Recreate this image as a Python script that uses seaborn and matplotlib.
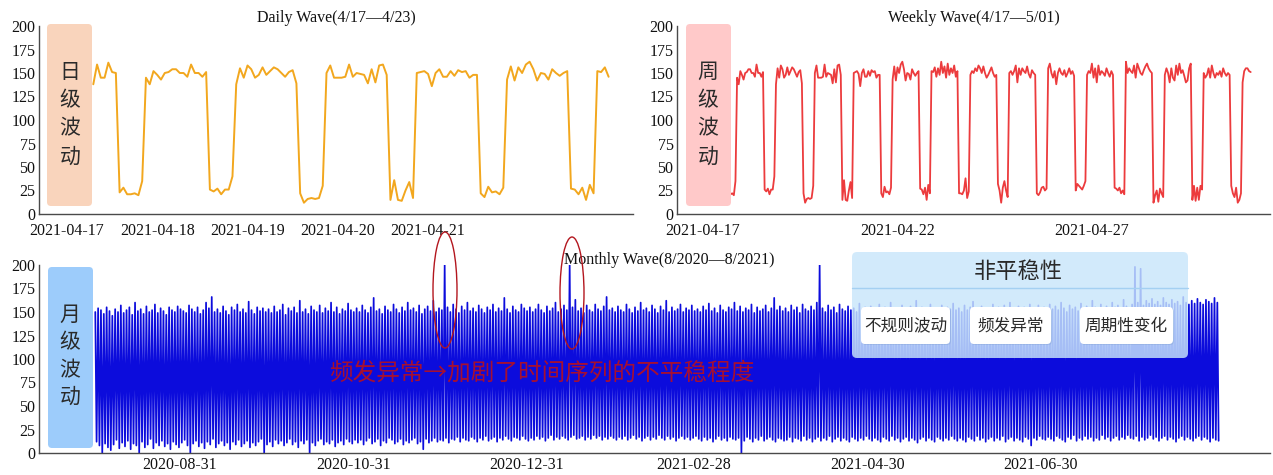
import matplotlib
matplotlib.use("Agg")
import matplotlib.pyplot as plt
import matplotlib.dates as mdates
import matplotlib.transforms as mtransforms
from matplotlib.patches import FancyBboxPatch, Ellipse
from matplotlib.lines import Line2D
import pandas as pd
import seaborn as sns

# ---------------- data ----------------
# hourly load from 2021-04-17 07:00 to 2021-04-23 00:00 (Daily Wave)
daily_wave_values = [
    138, 159, 145, 145, 161, 151, 150,
    23, 28, 21, 21, 22, 20, 35,
    145, 138, 152, 148, 143, 150, 151, 154, 154, 150, 150, 146, 159, 150, 150, 146, 151,
    26, 24, 27, 21, 26, 26, 40,
    138, 155, 145, 158, 154, 145, 148, 156, 148, 152, 156, 154, 150, 146, 151, 153, 139,
    22, 12, 16, 17, 16, 17, 30,
    150, 158, 145, 145, 145, 146, 159, 146, 150, 149, 148, 139, 154, 140, 158, 159, 148,
    15, 36, 15, 14, 25, 34, 17,
    150, 151, 152, 149, 136, 150, 154, 146, 146, 152, 147, 153, 151, 152, 145, 148, 148,
    22, 18, 29, 23, 24, 21, 28,
    143, 157, 142, 156, 150, 159, 162, 154, 142, 150, 149, 143, 154, 150, 147, 150, 152,
    27, 26, 21, 28, 15, 31, 22,
    152, 151, 156, 146,
]
# hourly load from 2021-04-23 01:00 to 2021-05-01 02:00 (rest of Weekly Wave)
weekly_extra_values = [
    155, 148, 162, 150, 157, 145, 160, 148, 155, 150, 158, 146, 152,
    22, 22, 21, 25, 38, 17, 24, 148, 152, 150,
    155, 152, 158, 155, 150, 157, 150, 145, 148, 152, 156, 150, 146, 148,
    32, 25, 12, 28, 35, 25, 18, 150, 152, 148,
    152, 158, 140, 155, 148, 155, 152, 150, 157, 149, 145, 153, 150, 148,
    22, 20, 23, 28, 29, 25, 27, 155, 160, 150,
    145, 152, 138, 150, 155, 150, 148, 153, 146, 150, 155, 149, 152, 147,
    25, 32, 30, 28, 26, 30, 35, 148, 152, 150,
    160, 145, 155, 140, 158, 148, 152, 150, 147, 155, 150, 146, 152, 148,
    28, 27, 25, 28, 22, 25, 21, 162, 150, 155,
    152, 150, 158, 145, 160, 155, 150, 148, 153, 157, 160, 155, 152, 150,
    12, 20, 25, 13, 27, 22, 18, 148, 155, 150,
    140, 155, 145, 142, 158, 148, 160, 150, 153, 147, 140, 142, 155, 160,
    15, 30, 14, 28, 15, 30, 26, 150, 145, 148,
    155, 145, 158, 150, 145, 150, 148, 152, 146, 155, 150, 147, 150, 148,
    30, 22, 18, 28, 12, 15, 22, 140, 152, 155,
    155, 152, 151,
]

# daily peak (daytime) and trough (night) of the load, 2020-08-01 .. 2021-08-31
monthly_peak = [
    # 2020-08
    150, 154, 152, 148, 155, 151, 146, 153, 150, 157, 149, 152, 155, 147, 160, 151,
    153, 148, 156, 150, 152, 158, 149, 154, 151, 147, 155, 152, 150, 156, 153,
    # 2020-09
    151, 149, 157, 153, 150, 155, 148, 152, 160, 154, 166, 150, 153, 149, 156, 151,
    147, 155, 152, 158, 150, 153, 149, 161, 152, 148, 155, 151, 154, 150,
    # 2020-10
    153, 149, 156, 150, 152, 158, 147, 154, 151, 155, 149, 162, 150, 153, 148, 156,
    152, 150, 157, 149, 154, 151, 160, 150, 155, 148, 153, 151, 159, 152, 150,
    # 2020-11
    154, 150, 157, 152, 149, 155, 165, 151, 153, 148, 156, 152, 150, 158, 153, 149,
    155, 151, 160, 152, 154, 150, 157, 148, 153, 156, 151, 162, 150, 154,
    # 2020-12
    152, 200, 155, 150, 158, 153, 149, 156, 152, 160, 151, 154, 150, 157, 153, 149,
    155, 152, 158, 150, 154, 151, 165, 153, 149, 156, 152, 150, 158, 154, 151,
    # 2021-01
    155, 150, 153, 158, 152, 149, 156, 151, 154, 160, 150, 153, 157, 152, 200, 155,
    163, 151, 154, 149, 157, 152, 150, 158, 153, 151, 156, 166, 152, 154, 150,
    # 2021-02
    156, 152, 150, 158, 153, 149, 155, 151, 160, 152, 154, 150, 157, 153, 149, 156,
    152, 162, 150, 155, 151, 153, 158, 150, 154, 152, 157, 151,
    # 2021-03
    153, 150, 156, 152, 159, 151, 154, 149, 157, 152, 150, 155, 153, 160, 151, 156,
    150, 154, 152, 158, 149, 155, 151, 153, 157, 150, 154, 165, 152, 156, 151,
    # 2021-04
    154, 150, 157, 152, 155, 149, 158, 153, 151, 156, 152, 160, 200, 154, 150, 157,
    152, 155, 149, 158, 153, 151, 156, 152, 154, 150, 159, 153, 155, 151,
    # 2021-05
    156, 152, 150, 158, 153, 155, 151, 160, 152, 154, 150, 157, 153, 149, 156, 152,
    162, 150, 155, 151, 153, 158, 150, 154, 152, 157, 151, 155, 153, 159, 152,
    # 2021-06
    154, 150, 157, 152, 155, 161, 153, 151, 156, 152, 154, 150, 158, 153, 155, 151,
    157, 152, 160, 154, 150, 156, 153, 155, 151, 158, 152, 154, 157, 153,
    # 2021-07
    155, 151, 158, 153, 156, 152, 160, 154, 150, 157, 153, 155, 151, 159, 154, 156,
    152, 162, 155, 153, 158, 154, 156, 152, 160, 155, 157, 153, 163, 156, 154,
    # 2021-08
    158, 198, 160, 196, 157, 162, 159, 164, 158, 161, 157, 165, 160, 158, 163, 159,
    161, 157, 166, 160, 158, 162, 159, 164, 160, 158, 163, 161, 159, 165, 160,
]
monthly_low = [
    # 2020-08
    12, 8, 0, 10, 6, 3, 9, 14, 5, 11, 7, 13, 4, 10, 8, 0, 12, 6, 9, 15, 5, 11, 8, 13,
    7, 10, 4, 12, 9, 6, 11,
    # 2020-09
    14, 8, 0, 10, 13, 7, 11, 5, 12, 9, 15, 6, 10, 13, 8, 11, 4, 12, 9, 14, 7, 10, 13,
    6, 11, 8, 12, 15, 0, 9,
    # 2020-10
    12, 7, 14, 10, 13, 8, 11, 15, 9, 12, 6, 13, 10, 14, 0, 11, 8, 13, 15, 9, 12, 10,
    14, 7, 11, 13, 9, 15, 12, 10, 14,
    # 2020-11
    11, 14, 9, 13, 16, 10, 12, 15, 8, 13, 11, 16, 14, 10, 12, 15, 9, 13, 11, 14, 16,
    10, 12, 4, 15, 11, 13, 16, 12, 14,
    # 2020-12
    13, 16, 11, 15, 14, 17, 12, 16, 14, 13, 17, 15, 12, 16, 14, 18, 13, 15, 17, 12,
    16, 14, 18, 15, 13, 17, 16, 14, 18, 15, 13,
    # 2021-01
    16, 14, 18, 15, 17, 13, 16, 19, 14, 17, 15, 18, 16, 14, 17, 19, 15, 16, 18, 14,
    17, 15, 19, 16, 18, 14, 17, 15, 18, 16, 14,
    # 2021-02
    17, 15, 18, 14, 16, 19, 15, 17, 13, 16, 18, 14, 17, 15, 19, 16, 14, 18, 15, 17,
    13, 16, 18, 15, 17, 14, 16, 18,
    # 2021-03
    15, 13, 17, 14, 16, 12, 15, 18, 14, 16, 13, 17, 15, 14, 16, 0, 13, 17, 15, 12,
    16, 14, 18, 13, 15, 17, 14, 12, 16, 15, 13,
    # 2021-04
    14, 17, 12, 16, 15, 13, 18, 14, 16, 12, 15, 17, 13, 16, 14, 18, 12, 15, 17, 13,
    16, 14, 12, 17, 15, 13, 16, 14, 18, 15,
    # 2021-05
    13, 16, 14, 12, 17, 15, 13, 18, 14, 16, 12, 15, 17, 13, 16, 14, 11, 15, 17, 13,
    16, 14, 12, 17, 15, 13, 16, 14, 18, 15, 13,
    # 2021-06
    16, 14, 12, 17, 15, 13, 18, 14, 16, 12, 15, 17, 13, 16, 14, 18, 12, 15, 17, 13,
    16, 14, 12, 17, 15, 8, 16, 14, 18, 15,
    # 2021-07
    14, 17, 15, 13, 18, 16, 14, 12, 17, 15, 19, 13, 16, 14, 18, 15, 17, 13, 16, 14,
    19, 15, 17, 13, 16, 18, 14, 17, 15, 19, 16,
    # 2021-08
    15, 18, 13, 17, 14, 16, 19, 15, 17, 13, 16, 18, 14, 17, 15, 12, 16, 18, 14, 17,
    15, 13, 16, 18, 14, 17, 15, 12, 16, 14, 13,
]

daily_ticks = ["2021-04-17", "2021-04-18", "2021-04-19", "2021-04-20", "2021-04-21"]
weekly_ticks = ["2021-04-17", "2021-04-22", "2021-04-27"]
monthly_ticks = ["2020-08-31", "2020-10-31", "2020-12-31", "2021-02-28",
                 "2021-04-30", "2021-06-30"]
y_ticks = [0, 25, 50, 75, 100, 125, 150, 175, 200]

titles = ["Daily Wave(4/17\u20144/23)", "Weekly Wave(4/17\u20145/01)",
          "Monthly Wave(8/2020\u20148/2021)"]
side_labels = ["日级波动", "周级波动", "月级波动"]
box_title = "非平稳性"
box_items = ["不规则波动", "频发异常", "周期性变化"]
note_text = "频发异常→加剧了时间序列的不平稳程度"

# ---------------- tables ----------------
hourly_values = daily_wave_values + weekly_extra_values
hourly_time = pd.date_range("2021-04-17 07:00", periods=len(hourly_values), freq="h")
hourly_df = pd.DataFrame({"time": hourly_time, "load": hourly_values})
daily_df = hourly_df[hourly_df["time"] <= pd.Timestamp("2021-04-23 00:00")]
weekly_df = hourly_df[hourly_df["time"] >= pd.Timestamp("2021-04-17 17:00")]

days = pd.date_range("2020-08-01", periods=len(monthly_peak), freq="D")
monthly_df = pd.concat([
    pd.DataFrame({"time": days + pd.Timedelta(hours=6), "load": monthly_peak}),
    pd.DataFrame({"time": days + pd.Timedelta(hours=17), "load": monthly_low}),
]).sort_values("time").reset_index(drop=True)

# ---------------- style ----------------
sns.set_theme(style="white")
plt.rcParams["font.family"] = ["Liberation Serif", "Noto Sans CJK SC"]
plt.rcParams["axes.unicode_minus"] = False

W, H = 1273, 475
fig = plt.figure(figsize=(W / 100, H / 100), dpi=100)
fig.patch.set_facecolor("white")


def rect(x0, y0, x1, y1):
    return [x0 / W, 1 - y1 / H, (x1 - x0) / W, (y1 - y0) / H]


ax1 = fig.add_axes(rect(39, 26, 633, 214))
ax2 = fig.add_axes(rect(677, 26, 1270, 214))
ax3 = fig.add_axes(rect(39, 265, 1270, 453))

sns.lineplot(data=daily_df, x="time", y="load", ax=ax1, color="#f2a71e",
             linewidth=1.4, estimator=None)
sns.lineplot(data=weekly_df, x="time", y="load", ax=ax2, color="#ec3b3d",
             linewidth=1.3, estimator=None)
sns.lineplot(data=monthly_df, x="time", y="load", ax=ax3, color="#0c0cdc",
             linewidth=1.25, estimator=None)

ax1.set_xlim(pd.Timestamp("2021-04-16 16:34"), pd.Timestamp("2021-04-23 06:29"))
ax2.set_xlim(pd.Timestamp("2021-04-16 07:55"), pd.Timestamp("2021-05-01 13:55"))
ax3.set_xlim(pd.Timestamp("2020-07-12 10:30"), pd.Timestamp("2021-09-18 19:00"))

for ax, ticks, xpad in zip([ax1, ax2, ax3], [daily_ticks, weekly_ticks, monthly_ticks],
                           [6.5, 6.5, 3.0]):
    ax.set_facecolor("white")
    ax.set_ylim(0, 200)
    ax.set_yticks(y_ticks)
    ax.set_xticks([pd.Timestamp(t) for t in ticks])
    ax.xaxis.set_major_formatter(mdates.DateFormatter("%Y-%m-%d"))
    ax.set_xlabel("")
    ax.set_ylabel("")
    ax.grid(False)
    for s in ["top", "right"]:
        ax.spines[s].set_visible(False)
    for s in ["left", "bottom"]:
        ax.spines[s].set_color("#4a4a4a")
        ax.spines[s].set_linewidth(1.0)
    ax.tick_params(axis="both", direction="in", length=3, width=0.8, color="#4a4a4a",
                   labelsize=11.5, labelcolor="#111111", pad=2.5)
    ax.tick_params(axis="x", pad=xpad)

ax1.set_title(titles[0], fontsize=11.5, pad=3, color="#111111")
ax2.set_title(titles[1], fontsize=11.5, pad=3, color="#111111")
ax3.set_title(titles[2], fontsize=11.5, pad=1, color="#111111", x=0.512)

# ---------------- overlay (pixel coords, origin top-left) ----------------
T = mtransforms.Affine2D().scale(1 / 100) + fig.dpi_scale_trans


def rbox(x0, y0, x1, y1, fc, r=5, alpha=1.0, ec="none", lw=0, z=2):
    p = FancyBboxPatch((x0, H - y1), x1 - x0, y1 - y0,
                       boxstyle=f"round,pad=0,rounding_size={r}", transform=T,
                       facecolor=fc, edgecolor=ec, linewidth=lw, alpha=alpha, zorder=z)
    fig.add_artist(p)


def ptext(x, y, s, **kw):
    fig.text(x, H - y, s, transform=T, ha="center", va="center",
             family=["Noto Sans CJK SC", "DejaVu Sans"], **kw)


# side label boxes
side_boxes = [(47, 24, 92, 206, "#f9d4bc", 70, [72, 100, 128, 157]),
              (686, 24, 731, 206, "#ffc9c9", 708, [72, 100, 128, 157]),
              (48, 267, 93, 448, "#9dccfb", 70, [315, 342, 370, 397])]
for (x0, y0, x1, y1, fc, cx, cys), lab in zip(side_boxes, side_labels):
    rbox(x0, y0, x1, y1, fc, r=4)
    for ch, cy in zip(lab, cys):
        ptext(cx, cy, ch, fontsize=15, color="#2a2a2a", zorder=5)

# red ellipses around anomalies
for cx, cy, w, h in [(445, 290, 24, 116), (572, 293, 24, 112)]:
    fig.add_artist(Ellipse((cx, H - cy), w, h, transform=T, fill=False,
                           edgecolor="#b3161e", linewidth=1.0, zorder=4))

# red note
ptext(542, 373, note_text, fontsize=17, color="#b8101e", alpha=0.9, zorder=5)

# non-stationarity box
rbox(852, 252, 1188, 358, "#c9e6fb", r=5, alpha=0.82, z=3)
fig.add_artist(Line2D([852, 1188], [H - 288, H - 288], transform=T,
                      color="#a4d0f2", linewidth=1.0, zorder=3))
ptext(1018, 271, box_title, fontsize=16, color="#2a2a2a", zorder=5)
for (x0, x1), item in zip([(861, 950), (970, 1051), (1080, 1173)], box_items):
    rbox(x0 + 1, 308, x1 + 1, 345, "#7f9fcf", r=4, alpha=0.35, z=3)
    rbox(x0, 307, x1, 344, "white", r=4, z=4)
    ptext((x0 + x1) / 2, 326, item, fontsize=12, color="#2a2a2a", zorder=5)

fig.savefig("out.png", dpi=100, facecolor="white")
